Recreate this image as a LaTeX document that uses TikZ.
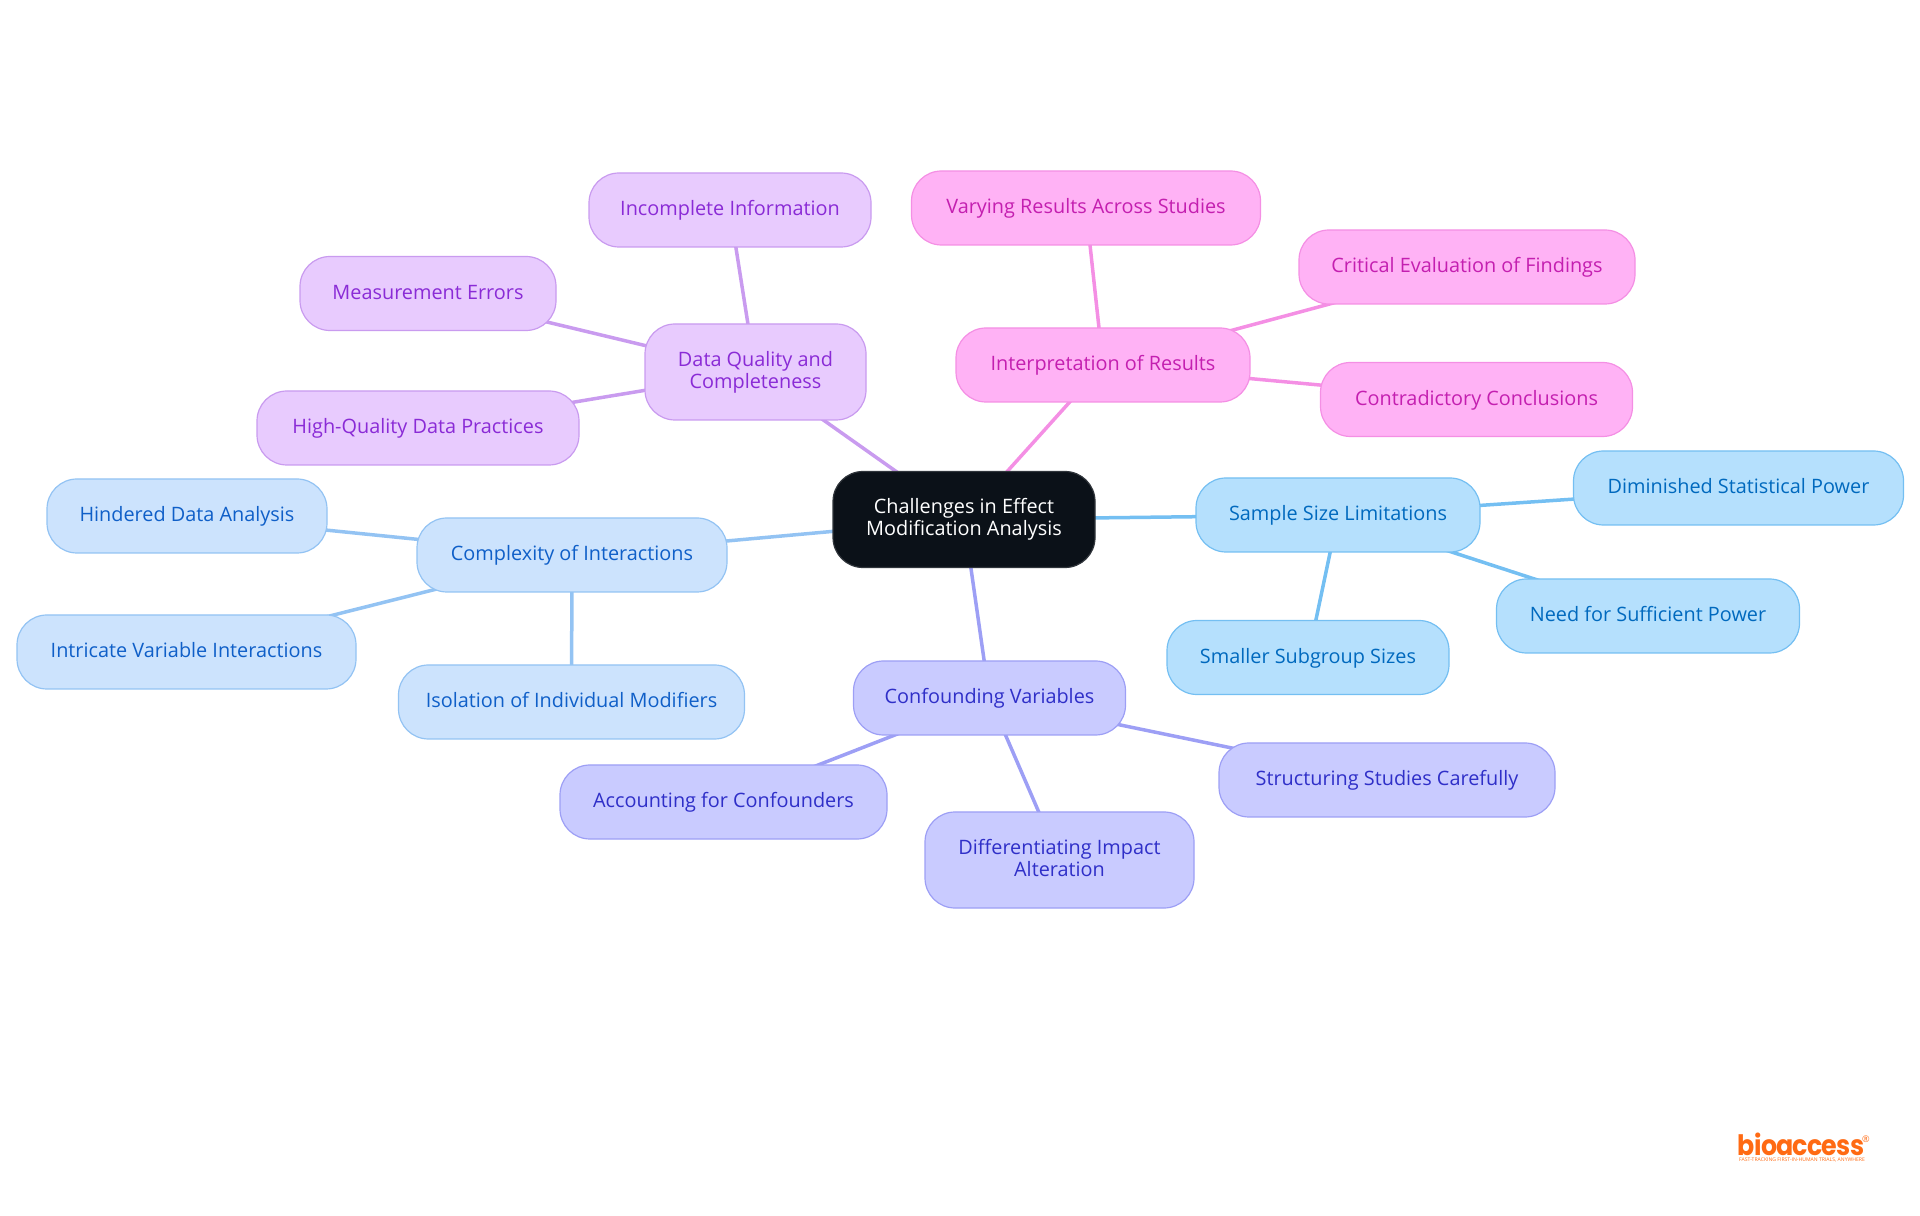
\documentclass[tikz,border=0pt]{standalone}
\usepackage{fontspec}
\setmainfont{Open Sans}
\newfontfamily\logofont[LetterSpace=-3]{Poppins Bold}
\usetikzlibrary{backgrounds}
\definecolor{rootfill}{HTML}{0B1118}
\definecolor{purplefill}{HTML}{E8CBFE}
\definecolor{purpleline}{HTML}{C99BEF}
\definecolor{purpletext}{HTML}{8A2BD6}
\definecolor{pinkfill}{HTML}{FFB2F5}
\definecolor{pinkline}{HTML}{F48FE4}
\definecolor{pinktext}{HTML}{C41FB0}
\definecolor{skyfill}{HTML}{B5E0FD}
\definecolor{skyline}{HTML}{74BFF2}
\definecolor{skytext}{HTML}{0069BE}
\definecolor{indigofill}{HTML}{C9CBFF}
\definecolor{indigoline}{HTML}{9D9FF5}
\definecolor{indigotext}{HTML}{2F2FC8}
\definecolor{bluefill}{HTML}{CCE3FD}
\definecolor{blueline}{HTML}{93C3F3}
\definecolor{bluetext}{HTML}{0F5FC8}
\definecolor{logoorange}{HTML}{FF6A13}
\tikzset{
	mapnode/.style={rounded corners=0.3cm, line width=0.012cm, inner sep=0pt, align=center, minimum height=0.74cm, font=\fontsize{5.65pt}{6.3pt}\selectfont, execute at begin node={\rule{0pt}{4.7pt}\vphantom{g}}},
	rootnode/.style={mapnode, draw=rootfill!85!white, fill=rootfill, text=white},
	purplenode/.style={mapnode, draw=purpleline, fill=purplefill, text=purpletext},
	pinknode/.style={mapnode, draw=pinkline, fill=pinkfill, text=pinktext},
	skynode/.style={mapnode, draw=skyline, fill=skyfill, text=skytext},
	indigonode/.style={mapnode, draw=indigoline, fill=indigofill, text=indigotext},
	bluenode/.style={mapnode, draw=blueline, fill=bluefill, text=bluetext},
	link/.style={line width=0.035cm}
}
\begin{document}
\begin{tikzpicture}
	\useasboundingbox (0,0) rectangle (19.2,12.15);
	\node[rootnode, minimum width=2.62cm, minimum height=0.96cm] (Root) at (9.64,6.955) {Challenges in Effect\\Modification Analysis};
	% purple branch
	\node[purplenode, minimum width=2.21cm, minimum height=0.96cm] (DQ) at (7.555,8.43) {Data Quality and\\Completeness};
	\node[purplenode, minimum width=2.82cm] (II) at (7.30,10.05) {Incomplete Information};
	\node[purplenode, minimum width=2.56cm] (ME) at (4.28,9.215) {Measurement Errors};
	\node[purplenode, minimum width=3.22cm] (HQ) at (4.18,7.87) {High-Quality Data Practices};
	% pink branch
	\node[pinknode, minimum width=2.94cm] (IR) at (11.03,8.50) {Interpretation of Results};
	\node[pinknode, minimum width=3.49cm] (VR) at (10.86,10.07) {Varying Results Across Studies};
	\node[pinknode, minimum width=3.36cm] (CE) at (14.67,9.48) {Critical Evaluation of Findings};
	\node[pinknode, minimum width=3.12cm] (CC) at (14.765,8.155) {Contradictory Conclusions};
	% sky branch
	\node[skynode, minimum width=2.84cm] (SS) at (13.38,7.00) {Sample Size Limitations};
	\node[skynode, minimum width=3.30cm] (DS) at (17.385,7.27) {Diminished Statistical Power};
	\node[skynode, minimum width=3.03cm] (NS) at (16.48,5.99) {Need for Sufficient Power};
	\node[skynode, minimum width=2.82cm] (SG) at (13.08,5.575) {Smaller Subgroup Sizes};
	% indigo branch
	\node[indigonode, minimum width=2.72cm] (CV) at (9.895,5.17) {Confounding Variables};
	\node[indigonode, minimum width=3.36cm] (SC) at (13.87,4.35) {Structuring Studies Carefully};
	\node[indigonode, minimum width=2.69cm, minimum height=0.96cm] (DI) at (10.595,3.55) {Differentiating Impact\\Alteration};
	\node[indigonode, minimum width=3.27cm] (AC) at (7.235,4.13) {Accounting for Confounders};
	% blue branch
	\node[bluenode, minimum width=3.10cm] (CI) at (5.72,6.60) {Complexity of Interactions};
	\node[bluenode, minimum width=2.80cm] (HD) at (1.87,6.99) {Hindered Data Analysis};
	\node[bluenode, minimum width=3.39cm] (IV) at (1.865,5.63) {Intricate Variable Interactions};
	\node[bluenode, minimum width=3.46cm] (IM) at (5.715,5.13) {Isolation of Individual Modifiers};
	% logo
	\node[inner sep=0pt, text=logoorange, font=\fontsize{8pt}{8pt}\logofont, xscale=0.9, transform shape] (Logo) at (18.01,0.71) {bioaccess};
	\node[inner sep=0pt, text=logoorange, font=\fontsize{2.6pt}{2.6pt}\selectfont] (Mark) at (18.66,0.76) {®};
	\node[inner sep=0pt, text=logoorange, font=\fontsize{1.45pt}{1.45pt}\selectfont, anchor=north] (Tag) at (18.02,0.575) {FAST-TRACKING FIRST-IN-HUMAN TRIALS, ANYWHERE};
	\begin{pgfonlayer}{background}
		\foreach \a/\b/\c in {Root/DQ/purpleline,DQ/II/purpleline,DQ/ME/purpleline,DQ/HQ/purpleline,
				Root/IR/pinkline,IR/VR/pinkline,IR/CE/pinkline,IR/CC/pinkline,
				Root/SS/skyline,SS/DS/skyline,SS/NS/skyline,SS/SG/skyline,
				Root/CV/indigoline,CV/SC/indigoline,CV/DI/indigoline,CV/AC/indigoline,
				Root/CI/blueline,CI/HD/blueline,CI/IV/blueline,CI/IM/blueline}
			\draw[link, \c] (\a.center) -- (\b.center);
	\end{pgfonlayer}
\end{tikzpicture}
\end{document}
